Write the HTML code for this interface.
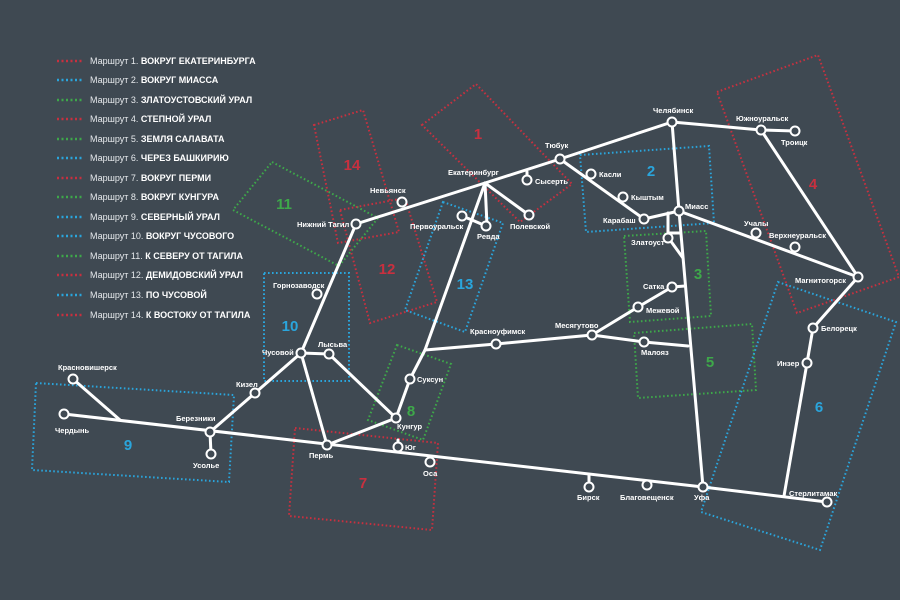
<!DOCTYPE html>
<html><head><meta charset="utf-8"><style>
html,body{margin:0;padding:0;background:#3f4952;}
svg{display:block;}
text{font-family:"Liberation Sans",sans-serif;fill:#fff;font-size:7.5px;}
.n{font-weight:bold;font-size:15px;}
.lg{font-size:9px;fill:#e6e9ec;}
.lg tspan.b{font-weight:bold;fill:#fff;}
</style></head><body>
<svg width="900" height="600" viewBox="0 0 900 600" xmlns="http://www.w3.org/2000/svg">
<rect width="900" height="600" fill="#3f4952"/>
<g fill="none" stroke-width="2" stroke-dasharray="1.6 2.4">
<polygon stroke="#c8303f" points="422,125 476,84 572,184 520,222"/>
<polygon stroke="#2aa5dc" points="580,155 709,146 714,223 586,232"/>
<polygon stroke="#3ea84a" points="624,236 706,231 711,316 630,322"/>
<polygon stroke="#c8303f" points="717,92 818,55 899,277 797,313"/>
<polygon stroke="#3ea84a" points="634,333 752,324 756,390 638,398"/>
<polygon stroke="#2aa5dc" points="778,282 896,322 820,550 701,512"/>
<polygon stroke="#c8303f" points="295,428 438,443 432,530 289,516"/>
<polygon stroke="#3ea84a" points="397,345 451,364 423,440 368,420"/>
<polygon stroke="#2aa5dc" points="36,383 234,395 229,482 32,470"/>
<polygon stroke="#2aa5dc" points="264,273 349,273 349,381 264,381"/>
<polygon stroke="#3ea84a" points="272,162 378,218 339,266 233,210"/>
<polygon stroke="#c8303f" points="340,210 405,198 437,302 370,323"/>
<polygon stroke="#2aa5dc" points="443,202 503,223 465,332 405,310"/>
<polygon stroke="#c8303f" points="314,125 363,110 399,232 338,243"/>
</g>
<g text-anchor="middle">
<text class="n" x="478" y="139" style="fill:#c8303f">1</text>
<text class="n" x="651" y="176" style="fill:#2aa5dc">2</text>
<text class="n" x="698" y="279" style="fill:#3ea84a">3</text>
<text class="n" x="813" y="189" style="fill:#c8303f">4</text>
<text class="n" x="710" y="367" style="fill:#3ea84a">5</text>
<text class="n" x="819" y="412" style="fill:#2aa5dc">6</text>
<text class="n" x="363" y="488" style="fill:#c8303f">7</text>
<text class="n" x="411" y="416" style="fill:#3ea84a">8</text>
<text class="n" x="128" y="450" style="fill:#2aa5dc">9</text>
<text class="n" x="290" y="331" style="fill:#2aa5dc">10</text>
<text class="n" x="284" y="209" style="fill:#3ea84a">11</text>
<text class="n" x="387" y="274" style="fill:#c8303f">12</text>
<text class="n" x="465" y="289" style="fill:#2aa5dc">13</text>
<text class="n" x="352" y="170" style="fill:#c8303f">14</text>
</g>
<g stroke="#fff" stroke-width="3" fill="none" stroke-linecap="round" stroke-linejoin="round">
<polyline points="64,414 703,487 827,502"/>
<line x1="73" y1="379" x2="120" y2="420"/>
<line x1="210" y1="432" x2="211" y2="454"/>
<polyline points="210,432 255,393 301,353 356,224 485,183 560,159 672,122 761,130 795,131"/>
<polyline points="301,353 327,445 396,418 329,354 301,353"/>
<polyline points="396,418 410,379 425,350 485,183"/>
<polyline points="425,350 496,344 592,335 644,342 688,346"/>
<polyline points="592,335 638,307 672,287 685,286"/>
<polyline points="672,122 679,211 703,487"/>
<polyline points="761,130 858,277 813,328 807,363 784,496"/>
<polyline points="679,211 858,277"/>
<polyline points="560,159 644,219 679,211"/>
<polyline points="668,213 668,233 680,233"/>
<line x1="670" y1="240" x2="683" y2="258"/>
<polyline points="485,183 487,225"/>
<polyline points="462,216 472,220 486,226"/>
<line x1="485" y1="183" x2="529" y2="215"/>
<line x1="527" y1="180" x2="527" y2="172"/>
<line x1="398" y1="447" x2="398" y2="440"/>
<line x1="589" y1="481" x2="589" y2="475"/>
</g>
<g stroke="#fff" stroke-width="2" fill="#3f4952">
<circle cx="73" cy="379" r="4.5"/><circle cx="64" cy="414" r="4.5"/>
<circle cx="210" cy="432" r="4.5"/><circle cx="211" cy="454" r="4.5"/>
<circle cx="255" cy="393" r="4.5"/><circle cx="301" cy="353" r="4.5"/>
<circle cx="329" cy="354" r="4.5"/><circle cx="327" cy="445" r="4.5"/>
<circle cx="396" cy="418" r="4.5"/><circle cx="410" cy="379" r="4.5"/>
<circle cx="398" cy="447" r="4.5"/><circle cx="430" cy="462" r="4.5"/>
<circle cx="496" cy="344" r="4.5"/><circle cx="592" cy="335" r="4.5"/>
<circle cx="644" cy="342" r="4.5"/><circle cx="638" cy="307" r="4.5"/>
<circle cx="672" cy="287" r="4.5"/><circle cx="589" cy="487" r="4.5"/>
<circle cx="647" cy="485" r="4.5"/><circle cx="703" cy="487" r="4.5"/>
<circle cx="827" cy="502" r="4.5"/><circle cx="807" cy="363" r="4.5"/>
<circle cx="813" cy="328" r="4.5"/><circle cx="858" cy="277" r="4.5"/>
<circle cx="756" cy="233" r="4.5"/><circle cx="795" cy="247" r="4.5"/>
<circle cx="761" cy="130" r="4.5"/><circle cx="795" cy="131" r="4.5"/>
<circle cx="672" cy="122" r="4.5"/><circle cx="679" cy="211" r="4.5"/>
<circle cx="668" cy="238" r="4.5"/><circle cx="644" cy="219" r="4.5"/>
<circle cx="623" cy="197" r="4.5"/><circle cx="591" cy="174" r="4.5"/>
<circle cx="560" cy="159" r="4.5"/><circle cx="527" cy="180" r="4.5"/>
<circle cx="529" cy="215" r="4.5"/><circle cx="486" cy="226" r="4.5"/>
<circle cx="462" cy="216" r="4.5"/><circle cx="402" cy="202" r="4.5"/>
<circle cx="356" cy="224" r="4.5"/><circle cx="317" cy="294" r="4.5"/>
</g>
<g font-weight="bold">
<text x="58" y="370">Красновишерск</text>
<text x="55" y="433">Чердынь</text>
<text x="176" y="421">Березники</text>
<text x="193" y="468">Усолье</text>
<text x="236" y="387">Кизел</text>
<text x="262" y="355">Чусовой</text>
<text x="318" y="347">Лысьва</text>
<text x="309" y="458">Пермь</text>
<text x="397" y="429">Кунгур</text>
<text x="417" y="382">Суксун</text>
<text x="405" y="450">Юг</text>
<text x="423" y="476">Оса</text>
<text x="470" y="334">Красноуфимск</text>
<text x="555" y="328">Месягутово</text>
<text x="641" y="355">Малояз</text>
<text x="646" y="313">Межевой</text>
<text x="643" y="289">Сатка</text>
<text x="577" y="500">Бирск</text>
<text x="620" y="500">Благовещенск</text>
<text x="694" y="500">Уфа</text>
<text x="789" y="496">Стерлитамак</text>
<text x="777" y="366">Инзер</text>
<text x="821" y="331">Белорецк</text>
<text x="795" y="283">Магнитогорск</text>
<text x="744" y="226">Учалы</text>
<text x="769" y="238">Верхнеуральск</text>
<text x="736" y="121">Южноуральск</text>
<text x="781" y="145">Троицк</text>
<text x="653" y="113">Челябинск</text>
<text x="685" y="209">Миасс</text>
<text x="631" y="245">Златоуст</text>
<text x="603" y="223">Карабаш</text>
<text x="631" y="200">Кыштым</text>
<text x="599" y="177">Касли</text>
<text x="545" y="148">Тюбук</text>
<text x="535" y="184">Сысерть</text>
<text x="510" y="229">Полевской</text>
<text x="477" y="239">Ревда</text>
<text x="410" y="229">Первоуральск</text>
<text x="448" y="175">Екатеринбург</text>
<text x="370" y="193">Невьянск</text>
<text x="297" y="227">Нижний Тагил</text>
<text x="273" y="288">Горнозаводск</text>
</g>
<g fill="none" stroke-width="2.5" stroke-dasharray="2 2.5">
<line x1="57" y1="61" x2="84" y2="61" stroke="#c8303f"/>
<line x1="57" y1="80" x2="84" y2="80" stroke="#2aa5dc"/>
<line x1="57" y1="100" x2="84" y2="100" stroke="#3ea84a"/>
<line x1="57" y1="119" x2="84" y2="119" stroke="#c8303f"/>
<line x1="57" y1="139" x2="84" y2="139" stroke="#3ea84a"/>
<line x1="57" y1="158" x2="84" y2="158" stroke="#2aa5dc"/>
<line x1="57" y1="178" x2="84" y2="178" stroke="#c8303f"/>
<line x1="57" y1="197" x2="84" y2="197" stroke="#3ea84a"/>
<line x1="57" y1="217" x2="84" y2="217" stroke="#2aa5dc"/>
<line x1="57" y1="236" x2="84" y2="236" stroke="#2aa5dc"/>
<line x1="57" y1="256" x2="84" y2="256" stroke="#3ea84a"/>
<line x1="57" y1="275" x2="84" y2="275" stroke="#c8303f"/>
<line x1="57" y1="295" x2="84" y2="295" stroke="#2aa5dc"/>
<line x1="57" y1="315" x2="84" y2="315" stroke="#c8303f"/>
</g>
<g>
<text class="lg" x="90" y="64">Маршрут 1. <tspan class="b">ВОКРУГ ЕКАТЕРИНБУРГА</tspan></text>
<text class="lg" x="90" y="83">Маршрут 2. <tspan class="b">ВОКРУГ МИАССА</tspan></text>
<text class="lg" x="90" y="103">Маршрут 3. <tspan class="b">ЗЛАТОУСТОВСКИЙ УРАЛ</tspan></text>
<text class="lg" x="90" y="122">Маршрут 4. <tspan class="b">СТЕПНОЙ УРАЛ</tspan></text>
<text class="lg" x="90" y="142">Маршрут 5. <tspan class="b">ЗЕМЛЯ САЛАВАТА</tspan></text>
<text class="lg" x="90" y="161">Маршрут 6. <tspan class="b">ЧЕРЕЗ БАШКИРИЮ</tspan></text>
<text class="lg" x="90" y="181">Маршрут 7. <tspan class="b">ВОКРУГ ПЕРМИ</tspan></text>
<text class="lg" x="90" y="200">Маршрут 8. <tspan class="b">ВОКРУГ КУНГУРА</tspan></text>
<text class="lg" x="90" y="220">Маршрут 9. <tspan class="b">СЕВЕРНЫЙ УРАЛ</tspan></text>
<text class="lg" x="90" y="239">Маршрут 10. <tspan class="b">ВОКРУГ ЧУСОВОГО</tspan></text>
<text class="lg" x="90" y="259">Маршрут 11. <tspan class="b">К СЕВЕРУ ОТ ТАГИЛА</tspan></text>
<text class="lg" x="90" y="278">Маршрут 12. <tspan class="b">ДЕМИДОВСКИЙ УРАЛ</tspan></text>
<text class="lg" x="90" y="298">Маршрут 13. <tspan class="b">ПО ЧУСОВОЙ</tspan></text>
<text class="lg" x="90" y="318">Маршрут 14. <tspan class="b">К ВОСТОКУ ОТ ТАГИЛА</tspan></text>
</g>
</svg>
</body></html>
